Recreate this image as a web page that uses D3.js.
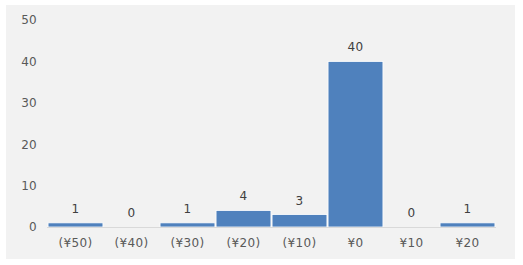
<html>
<head>
<style>
  body { margin: 0; background: #fff; }
  text { font-family: "DejaVu Sans", sans-serif; }
</style>
</head>
<body>
<div id="chart"></div>
<script src="https://d3js.org/d3.v7.min.js"></script>
<script>
var categories = ["(¥50)", "(¥40)", "(¥30)", "(¥20)", "(¥10)", "¥0", "¥10", "¥20"];
var counts = [1, 0, 1, 4, 3, 40, 0, 1];
var yTicks = [0, 10, 20, 30, 40, 50];

var width = 523, height = 265;

var svg = d3.select("#chart").append("svg")
    .attr("width", width)
    .attr("height", height);

// panel background
svg.append("rect")
   .attr("x", 6).attr("y", 5)
   .attr("width", 509).attr("height", 254)
   .attr("fill", "#f2f2f2");

var x = d3.scaleBand()
    .domain(categories)
    .range([47.5, 495.5])
    .paddingInner(0.02)
    .paddingOuter(0.01);

var y = d3.scaleLinear()
    .domain([0, 50])
    .range([227, 20]);

// y axis labels
var yAxis = d3.axisLeft(y).tickValues(yTicks).tickSize(0).tickPadding(0);
var gy = svg.append("g").attr("transform", "translate(37,0)").call(yAxis);
gy.select(".domain").remove();
gy.selectAll("text")
  .attr("fill", "#595959")
  .style("font-family", "DejaVu Sans")
  .style("font-size", "12px")
  .style("letter-spacing", "0.3px");

// bars
svg.append("g")
   .selectAll("rect")
   .data(counts)
   .enter().append("rect")
   .attr("x", function(d, i) { return x(categories[i]); })
   .attr("y", function(d) { return y(d); })
   .attr("width", x.bandwidth())
   .attr("height", function(d) { return y(0) - y(d); })
   .attr("fill", "#4f81bd")
   .attr("stroke", "#ffffff")
   .attr("stroke-width", 0.8);

// baseline
svg.append("line")
   .attr("x1", 47).attr("x2", 496)
   .attr("y1", y(0) + 0.5).attr("y2", y(0) + 0.5)
   .attr("stroke", "#d9d9d9");

// value labels
svg.append("g")
   .selectAll("text")
   .data(counts)
   .enter().append("text")
   .attr("x", function(d, i) { return x(categories[i]) + x.bandwidth() / 2; })
   .attr("y", function(d) { return y(d) - 10; })
   .attr("text-anchor", "middle")
   .attr("fill", "#404040")
   .style("font-size", "12px")
   .style("letter-spacing", "0.3px")
   .text(function(d) { return d; });

// x axis labels
var xAxis = d3.axisBottom(x).tickSize(0).tickPadding(0);
var gx = svg.append("g").attr("transform", "translate(0,238)").call(xAxis);
gx.select(".domain").remove();
gx.selectAll("text")
  .attr("fill", "#595959")
  .style("font-family", "DejaVu Sans")
  .style("font-size", "12px")
  .style("letter-spacing", "0.3px");
</script>
</body>
</html>
